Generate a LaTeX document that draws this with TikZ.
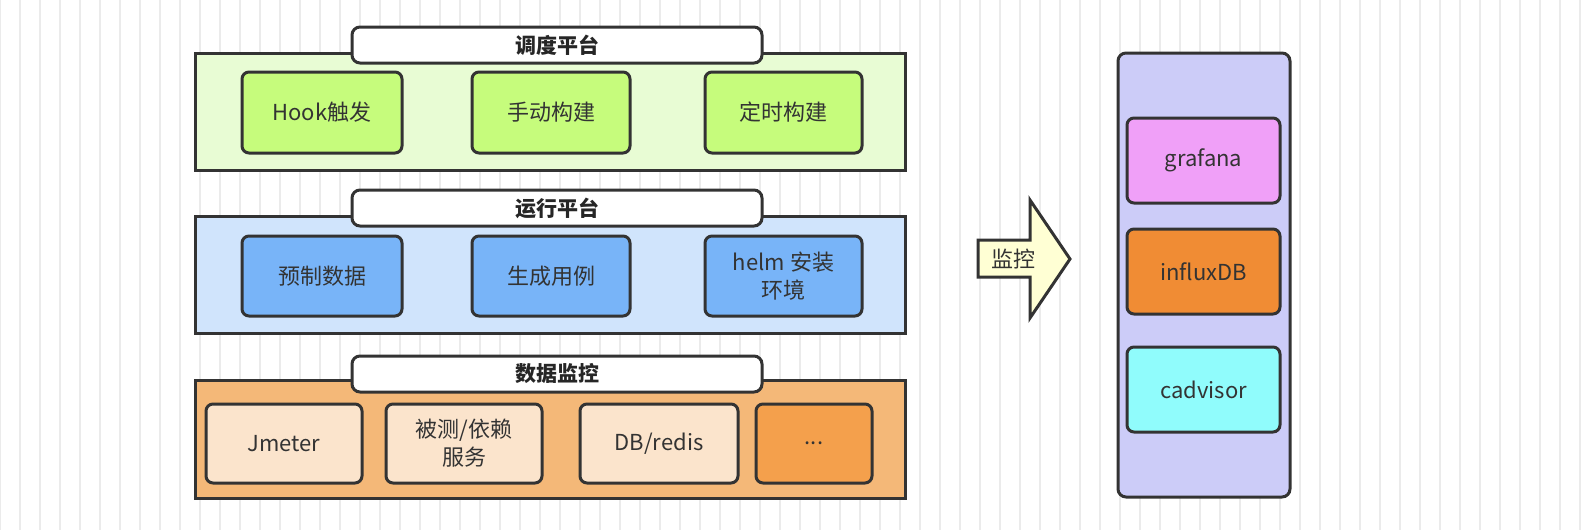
\documentclass[tikz,border=0pt]{standalone}
\usepackage{fontspec}
\setmainfont{Noto Sans CJK SC}
\begin{document}
\begin{tikzpicture}[x=1pt,y=-1pt,
 panel/.style={draw=black!80,line width=3pt},
 box/.style={draw=black!80,line width=3pt,rounded corners=7pt,align=center,font=\fontsize{22}{28}\selectfont,text=black!80},
 title/.style={draw=black!80,line width=3pt,rounded corners=8pt,fill=white,font=\bfseries\fontsize{21}{26}\selectfont,text=black!85}]
\draw[black!8,line width=1.2pt] (0,0) grid[step=20] (1588,530);
% panel 1
\draw[panel,fill={rgb,255:red,232;green,252;blue,212}] (195,53) rectangle (905,170);
\node[title] (t1) at (557,45) [minimum width=410,minimum height=36] {调度平台};
\foreach \n/\a/\b/\t in {a/242/402/Hook触发,b/472/630/手动构建,c/705/862/定时构建}
 \draw[box,fill={rgb,255:red,198;green,252;blue,124}] (\a,72) rectangle (\b,153) node[midway] (p1\n) {\t};
% panel 2
\draw[panel,fill={rgb,255:red,208;green,228;blue,252}] (195,216) rectangle (905,333);
\node[title] (t2) at (557,208) [minimum width=410,minimum height=36] {运行平台};
\foreach \n/\a/\b/\t in {a/242/402/预制数据,b/472/630/生成用例,c/705/862/{helm 安装\\环境}}
 \draw[box,fill={rgb,255:red,120;green,180;blue,248}] (\a,236) rectangle (\b,316) node[midway,align=center] (p2\n) {\t};
% panel 3
\draw[panel,fill={rgb,255:red,244;green,184;blue,120}] (195,380) rectangle (905,498);
\node[title] (t3) at (557,374) [minimum width=410,minimum height=36] {数据监控};
\draw[box,fill={rgb,255:red,251;green,228;blue,204}] (206,404) rectangle (362,483) node[midway] (p3a) {Jmeter};
\draw[box,fill={rgb,255:red,251;green,228;blue,204}] (386,404) rectangle (542,483) node[midway,align=center] (p3b) {被测/依赖\\服务};
\draw[box,fill={rgb,255:red,251;green,228;blue,204}] (580,404) rectangle (738,483) node[midway] (p3c) {DB/redis};
\draw[box,fill={rgb,255:red,244;green,160;blue,76}] (756,404) rectangle (872,483) node[midway] (p3d) {...};
% arrow
\draw[panel,line join=miter,fill={rgb,255:red,255;green,255;blue,212}] (978,240) -- (1030,240) -- (1030,200) -- (1070,259) -- (1030,318) -- (1030,277) -- (978,277) -- cycle;
\node[font=\fontsize{22}{26}\selectfont,text=black!80] (arr) at (1013,259) {监控};
% right
\draw[panel,rounded corners=8pt,fill={rgb,255:red,204;green,204;blue,248}] (1118,53) rectangle (1290,497);
\draw[box,fill={rgb,255:red,240;green,160;blue,248}] (1127,118) rectangle (1280,203) node[midway] (g) {grafana};
\draw[box,fill={rgb,255:red,240;green,140;blue,52}] (1127,229) rectangle (1280,314) node[midway] (i) {influxDB};
\draw[box,fill={rgb,255:red,144;green,252;blue,252}] (1127,347) rectangle (1280,432) node[midway] (c) {cadvisor};
\pgfresetboundingbox
\path[use as bounding box] (0,0) rectangle (1588,530);
\end{tikzpicture}
\end{document}
